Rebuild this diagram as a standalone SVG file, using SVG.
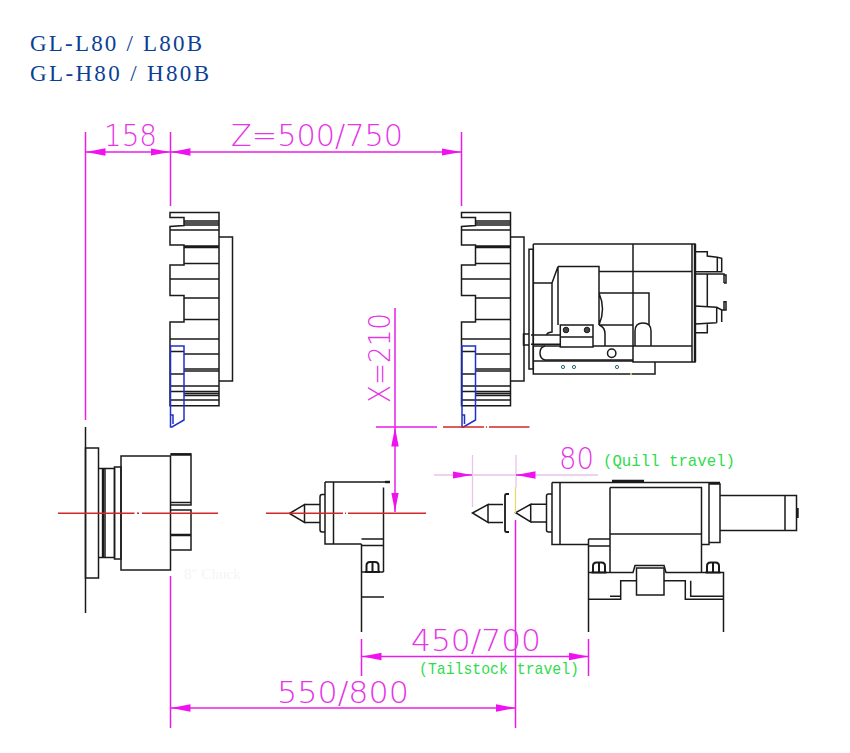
<svg xmlns="http://www.w3.org/2000/svg" width="850" height="753" viewBox="0 0 850 753">
<style>
.k{fill:none;stroke:#1a1a1a;stroke-width:1.5}
.t{stroke-width:2.4}
.b{fill:none;stroke:#2030c8;stroke-width:1.5}
.r{fill:none;stroke:#d02828;stroke-width:1.5}
.m{fill:none;stroke:#e81fe8;stroke-width:1.5}
.p{fill:none;stroke:#e8c4e8;stroke-width:1.3}
.d{fill:none;stroke:#e81fe8;stroke-width:1.5;marker-end:url(#a)}
.dd{fill:none;stroke:#e81fe8;stroke-width:1.5;marker-start:url(#a);marker-end:url(#a)}
.title{font-family:"Liberation Serif",serif;font-size:23px;fill:#0b3f96}
.dim{font-family:"DejaVu Sans",sans-serif;font-weight:200;font-size:30px;fill:#e635e6}
.note{font-family:"Liberation Mono",monospace;fill:#2fdc4c}
</style>
<defs>
<marker id="a" markerUnits="userSpaceOnUse" markerWidth="20" markerHeight="9" viewBox="0 0 20 9" refX="19.500" refY="4.500" orient="auto-start-reverse"><path d="M0 .8L19.500 4.500L0 8.200z" fill="#f010f0"/></marker>
<g id="chuckface">
<path class="k" d="M170 212.500H219V405.700H170V322H184V295.500H170V265H184V245H170V226.500L184 225.500V217.500H170Z"/>
<path class="k" d="M184 221H219M184 223H219M184 225H219M170 230H219M184 246H219M184 247.500H219M184 263.500H219M170 279H219M184 298H219M184 319.500H219M170 339H219M170 351.500H184M184 354H219M170 374H184M184 369H219M184 371H219M170 386H219M170 391.500H219M184 393.500H219M184 395.500H219M170 400H219"/>
<path class="k" d="M219 237H232.500V381H219"/>
<path class="b" d="M170.500 346H184V420L172 427H170.500ZM170.500 415H173V424"/>
</g>
<g id="nut"><path class="k" d="M-6 5.500V-1Q-6 -4.500 -2.500 -4.500H2.500Q6 -4.500 6 -1V5.500M-7.500 5.500H7.500M0 -4.500V5.500" style="stroke-width:2"/></g>
</defs>

<g id="title">
<text class="title" x="30" y="51" textLength="172">GL-L80 / L80B</text>
<text class="title" x="30" y="81" textLength="179">GL-H80 / H80B</text>
</g>

<g id="chuck-left"><use href="#chuckface"/></g>
<g id="chuck-right"><use href="#chuckface" x="291.500"/></g>

<g id="turret-head">
<path class="k" d="M529 249.300H533.300V369H529ZM523.500 334H529V345H523.500Z"/>
<path class="k" d="M533.300 244H695V362H633V244M633 271.500H692M599 271.500H633M692 244V362M533.300 244V374H655V362M533.300 361H633"/>
<path class="k t" d="M695 244V362"/>
<path class="k" d="M558 266.500H599V325M558 266.500L552 283H533.300M552 283V332Q546 333 547 335M558 266.500V325M599 293H649V325M599 325H633M599 293Q606 309 599 325M599 325Q605 327 605 334V346"/>
<path class="k" d="M635 346V331Q635 323 643 323Q651 323 651 331V346M593 346H692M533.300 346H560"/>
<path class="k" d="M545 346Q540 347 540 353Q540 359 545 360H633"/>
<circle class="k" cx="611.700" cy="353.300" r="4.200"/>
<path class="k" d="M560.300 325H593V347H560.300ZM560.300 337H593M531 335H560.300M531 344.300H560.300"/>
<circle cx="566" cy="330" r="2.800" fill="#444" stroke="#1a1a1a"/>
<circle cx="587" cy="330" r="2.800" fill="#444" stroke="#1a1a1a"/>
<circle cx="563" cy="367" r="1.600" fill="#fff" stroke="#2a6a70"/>
<circle cx="574" cy="367" r="1.600" fill="#fff" stroke="#2a6a70"/>
<circle cx="617" cy="367" r="1.600" fill="#fff" stroke="#2a6a70"/>
<circle cx="631" cy="374" r="1" fill="#f0e040"/>
<path class="k" d="M695 251.700H707.300V256L717.300 257.300L721.700 258.300V271.700H695M717.300 257.300V271.700M695 274H724V283M724 275H726V283H724M707.300 274V306M695 306L716.700 307.300L721.700 310H726V301.700H724V310M716.700 307.300V322.700M721.700 310V322M695 324L716.700 322.700M707.300 324.300V332.700H695"/>
</g>

<g id="spindle">
<path class="k" d="M85.500 427V613"/>
<rect class="k" x="85.500" y="448" width="13" height="130"/>
<path class="k" d="M98.500 468.500H114.500V557.500H98.500"/>
<path class="k t" d="M103 468.500V557.500"/>
<path class="k" d="M105 468.500V557.500"/>
<rect class="k" x="114.500" y="467" width="6.500" height="92"/>
<rect class="k" x="121" y="456" width="49.500" height="114"/>
<path class="k" d="M170.500 454H191V505H170.500M170.500 502.500H191M170.500 510H191V550H170.500"/>
<path class="k t" d="M170.500 454.500H191M170.500 535H191"/>
<text x="184" y="579" font-family="Liberation Serif, serif" font-size="15" fill="#f5f5f5">8" Chuck</text>
</g>

<g id="tailstock-left">
<path class="k" d="M289.500 513.500L304.500 504.500V522.500ZM304.500 504.500H320M304.500 522.500H320"/>
<path class="k" d="M325 494.500H322Q320 494.500 320 497V529.500Q320 532 322 532H325"/>
<path class="k" d="M325 482H389M325 482V544H361.500M333.500 482V544M383.500 487.500V572"/>
<path class="k t" d="M385 482H390"/>
<path class="k" d="M361.500 539H383.500M361.500 545.500H383.500M361.500 544V632M361.500 572H383.500M361.500 597H384"/>
<use href="#nut" x="372.500" y="566.500"/>
</g>

<g id="tailstock-right">
<path class="k" d="M472.500 513L488 504.500V522.500ZM488 504.500H503M488 522.500H503"/>
<path class="k" d="M509 494H506.500Q505 494 505 496V530Q505 532 506.500 532H509" style="stroke-width:1.800"/>
<path class="k" d="M515.700 512.700L530.700 504.300V522ZM530.700 504.300H546.500M530.700 522H546.500"/>
<path class="k" d="M552 494H548.500Q546.500 494 546.500 496V530Q546.500 532 548.500 532H552"/>
<path class="k" d="M552 482.500H720M552 482.500V544.500H588.500M560 482.500V544.500M709 482.500V544.500H701.500M709 484H720V542.500H709M720 495.500H796.500V530.500H720M785 495.500V530.500"/>
<path class="k t" d="M612 481H644M797.500 508V518"/>
<path class="k" d="M610 487.500H701.500V572.500M610 487.500V572.500M610 534H701.500"/>
<path class="k" d="M588.500 539H610M588.500 546H610M588.500 539V632M588.500 572.500H633L635 565.500H664L666 572.500H723.500V632"/>
<rect class="k" x="636.500" y="568" width="27.500" height="27"/>
<path class="k" d="M588.500 599.300H620.700V580.700H636.500M664 580.700H685.300V599.300H723.500M690.700 580.700V596.300H723.500M610 596.300H620.700"/>
<use href="#nut" x="599" y="567"/>
<use href="#nut" x="713" y="567"/>
</g>

<g id="connectors">
<path class="r" d="M58 513.300H134.500M137 513.300H139M142 513.300H218M266 513.300H343M345 513.300H346M348 513.300H426M443 427H484M486 427H487M489 427H529.500"/>
<path class="m" d="M85.500 132V420M170.500 132V206M461.500 132V206M170.500 576V728M515.500 520V728M361.500 639V676M588.500 639V676M395 308V427M376 427H437"/>
<path class="p" d="M472.500 455V507M516 455V487M434 475H453M472.500 475H598"/>
<path class="dd" d="M86 152H170"/>
<path class="dd" d="M171 152H461"/>
<path class="dd" d="M395 427V512"/>
<path class="d" d="M453 475H472"/>
<path class="d" d="M535 475H516"/>
<path d="M515.500 487V513" fill="none" stroke="#ecd860" stroke-width="1.200"/>
<path class="dd" d="M362 656.500H588.500"/>
<path class="dd" d="M171 708H515.500"/>
</g>

<g id="labels">
<text class="dim" x="104" y="146" textLength="53" lengthAdjust="spacingAndGlyphs">158</text>
<text class="dim" x="231" y="146" textLength="172" lengthAdjust="spacingAndGlyphs">Z=500/750</text>
<text class="dim" transform="translate(390 403) rotate(-90)" textLength="90" lengthAdjust="spacingAndGlyphs">X=210</text>
<text class="dim" x="559" y="469" textLength="35" lengthAdjust="spacingAndGlyphs">80</text>
<text class="dim" x="411" y="651" textLength="130" lengthAdjust="spacingAndGlyphs">450/700</text>
<text class="dim" x="277" y="703" textLength="132" lengthAdjust="spacingAndGlyphs">550/800</text>
<text class="note" x="603" y="466" font-size="17" textLength="132" lengthAdjust="spacingAndGlyphs">(Quill travel)</text>
<text class="note" x="419" y="674" font-size="17" textLength="160" lengthAdjust="spacingAndGlyphs">(Tailstock travel)</text>
</g>
</svg>
